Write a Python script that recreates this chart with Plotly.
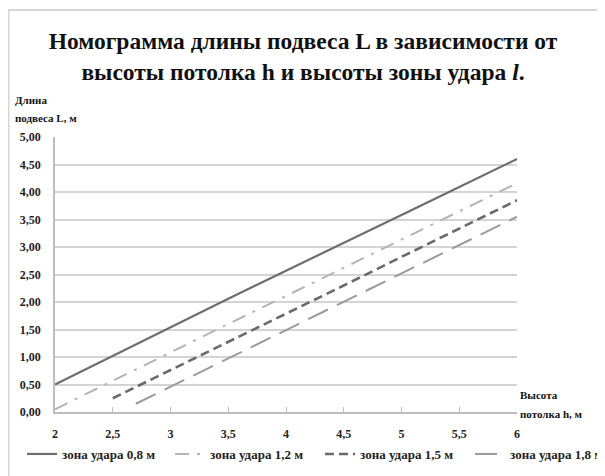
import plotly.graph_objects as go

# data
h_08 = [2, 2.5, 3, 3.5, 4, 4.5, 5, 5.5, 6]
L_08 = [0.50, 1.02, 1.55, 2.06, 2.57, 3.07, 3.58, 4.09, 4.60]
h_12 = [2, 2.5, 3, 3.5, 4, 4.5, 5, 5.5, 6]
L_12 = [0.05, 0.57, 1.08, 1.60, 2.11, 2.62, 3.13, 3.65, 4.16]
h_15 = [2.5, 3, 3.5, 4, 4.5, 5, 5.5, 6]
L_15 = [0.25, 0.76, 1.27, 1.79, 2.30, 2.82, 3.33, 3.85]
h_18 = [2.7, 3, 3.5, 4, 4.5, 5, 5.5, 6]
L_18 = [0.15, 0.46, 0.97, 1.49, 2.00, 2.52, 3.03, 3.55]
names = ["зона удара 0,8 м", "зона удара 1,2 м", "зона удара 1,5 м", "зона удара 1,8 м"]
x_ticks = [2, 2.5, 3, 3.5, 4, 4.5, 5, 5.5, 6]
x_ticktext = ["2", "2,5", "3", "3,5", "4", "4,5", "5", "5,5", "6"]
y_ticks = [0, 0.5, 1, 1.5, 2, 2.5, 3, 3.5, 4, 4.5, 5]

fig = go.Figure()
fig.add_trace(go.Scatter(x=h_08, y=L_08, mode="lines", name=names[0], legend="legend",
                         line=dict(color="#6e6e6e", width=2.2, dash="solid")))
fig.add_trace(go.Scatter(x=h_12, y=L_12, mode="lines", name=names[1], legend="legend2",
                         line=dict(color="#b4b4b4", width=2, dash="14px,8px,3px,8px")))
fig.add_trace(go.Scatter(x=h_15, y=L_15, mode="lines", name=names[2], legend="legend3",
                         line=dict(color="#6a6a6a", width=2.6, dash="9px,5px")))
fig.add_trace(go.Scatter(x=h_18, y=L_18, mode="lines", name=names[3], legend="legend4",
                         line=dict(color="#9a9a9a", width=2, dash="22px,10px")))

serif = "Liberation Serif"
# plot area (figure px): x 47..509, y 129..404 (page adds 8px offset)
PL, PR, PT, PB = 47, 509, 129, 404
PW, PH = PR - PL, PB - PT

def leg(x_fig):
    return dict(orientation="h", xref="container", yref="container",
                x=x_fig/605, xanchor="left", y=1-431/476, yanchor="top",
                font=dict(family=serif, size=13, color="#222", weight="bold"),
                itemwidth=30, bgcolor="rgba(0,0,0,0)")

fig.update_layout(
    width=605, height=476,
    margin=dict(l=PL, r=605 - PR, t=PT, b=476 - PB, autoexpand=False),
    paper_bgcolor="white", plot_bgcolor="white",
    separators=", ",
    showlegend=True,
    title=dict(text="Номограмма длины подвеса L в зависимости от<br>высоты потолка <b>h</b> и высоты зоны удара <i>l</i>.",
               x=295/605, xanchor="center", y=1-41/476, yanchor="middle",
               font=dict(family=serif, size=23.5, color="#111", weight="bold")),
    legend=leg(14), legend2=leg(162), legend3=leg(312), legend4=leg(462),
    xaxis=dict(range=[2, 6], tickvals=x_ticks, ticktext=x_ticktext,
               showgrid=False, zeroline=False, showline=True, linecolor="#bdbdbd", linewidth=1.5,
               ticks="inside", ticklen=5, tickcolor="#bdbdbd",
               tickfont=dict(family=serif, size=12, color="#222", weight="bold"),
               ticklabelstandoff=10),
    yaxis=dict(range=[0, 5], tickvals=y_ticks, tickformat=".2f",
               showgrid=True, gridcolor="#d4d4d4", gridwidth=1.5, zeroline=False,
               showline=True, linecolor="#bdbdbd", linewidth=1.5,
               tickfont=dict(family=serif, size=12, color="#222", weight="bold"),
               ticklabelstandoff=10),
)

def label(text, sx, sy):
    # sx, sy: screen px of text left edge / vertical centre
    fig.add_annotation(text=text, xref="paper", yref="paper",
                       x=(sx - 8 - PL) / PW - 3 / PW, y=(PB - (sy - 8)) / PH,
                       xanchor="left", yanchor="middle", align="left", showarrow=False,
                       font=dict(family=serif, size=11, color="#111", weight="bold"))

label("Длина", 16, 100)
label("подвеса L, м", 16, 118)
label("Высота", 521, 395)
label("потолка h, м", 521, 414)

fig.add_shape(type="rect", xref="paper", yref="paper",
              x0=(0.5-PL)/PW, x1=(640-PL)/PW, y0=(PB-520)/PH, y1=(PB-2)/PH,
              line=dict(color="#d6d6d6", width=2), layer="below")

fig.write_html("out.html")
